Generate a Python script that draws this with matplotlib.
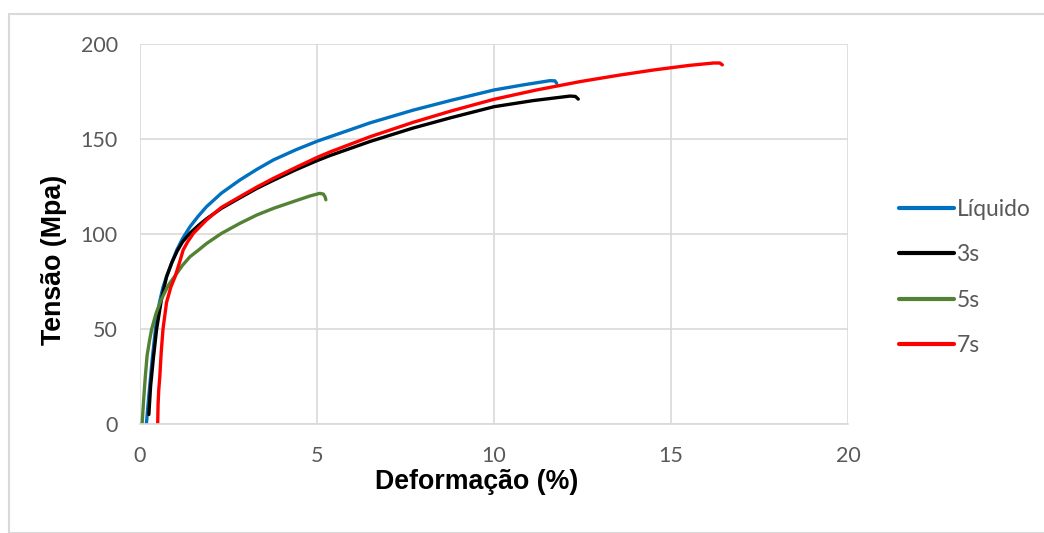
import matplotlib
matplotlib.use("Agg")
import matplotlib.pyplot as plt
from matplotlib.patches import Rectangle

liq_x = [0.18, 0.25, 0.35, 0.45, 0.55, 0.65, 0.75, 0.9, 1.04, 1.2, 1.41, 1.65, 1.88, 2.3, 2.82, 3.3, 3.77, 4.4, 5.0, 5.37, 5.65, 6.5, 7.72, 8.8, 10.0, 10.8, 11.58, 11.72, 11.77]
liq_y = [0, 15, 35, 52, 64, 72, 77.5, 85, 91.6, 97.5, 103.8, 109.5, 114.4, 121.5, 128.4, 134, 139, 144.3, 148.8, 151.2, 153.0, 158.5, 165.2, 170.4, 175.8, 178.4, 180.7, 180.6, 179.3]

s3_x = [0.25, 0.3, 0.38, 0.47, 0.6, 0.75, 0.9, 1.05, 1.2, 1.41, 1.65, 1.88, 2.3, 2.82, 3.3, 3.77, 4.4, 5.0, 5.37, 6.5, 7.72, 8.8, 10.0, 11.1, 12.15, 12.3, 12.38]
s3_y = [5, 20, 35, 50, 65, 77.5, 85, 91, 95.8, 100.4, 104.5, 108, 113.5, 119, 124, 128.3, 133.8, 138.6, 141.3, 148.7, 155.8, 161.3, 167, 170.2, 172.6, 172.4, 171]

s5_x = [0.06, 0.1, 0.15, 0.2, 0.27, 0.33, 0.45, 0.6, 0.8, 1.04, 1.2, 1.41, 1.65, 1.88, 2.3, 2.82, 3.3, 3.77, 4.4, 4.8, 5.08, 5.18, 5.23, 5.25]
s5_y = [0, 12, 25, 36, 44, 50, 58, 65.5, 73, 79.3, 83.5, 88, 91.5, 95, 100.3, 105.6, 110, 113.5, 117.5, 120, 121.4, 121, 119.5, 118]

s7_x = [0.5, 0.51, 0.53, 0.56, 0.6, 0.65, 0.75, 0.87, 0.99, 1.1, 1.22, 1.35, 1.51, 1.7, 1.88, 2.3, 2.82, 3.3, 3.77, 4.4, 5.0, 5.37, 6.5, 7.72, 8.8, 10.0, 11.2, 12.43, 13.5, 14.5, 15.5, 16.2, 16.38, 16.45]
s7_y = [0, 10, 18, 25, 38, 50, 64, 72, 77.5, 84, 91.6, 96, 100.4, 104, 107.4, 114, 119.6, 124.7, 129.3, 135, 140.3, 143.2, 151.2, 158.8, 164.8, 170.9, 175.8, 180.2, 183.5, 186.3, 188.7, 190, 190, 189]

labels = ["Líquido", "3s", "5s", "7s"]
colors = ["#0070C0", "#000000", "#548235", "#FF0000"]

fig = plt.figure(figsize=(10.44, 5.33), dpi=100)
fig.patches.append(Rectangle((9/1044, 0), 1.0, 1 - 14/533, transform=fig.transFigure,
                             fill=False, edgecolor="#d9d9d9", linewidth=1.5))
ax = fig.add_axes([140/1044, 109/533, 708/1044, 380/533])

series = [(liq_x, liq_y), (s3_x, s3_y), (s5_x, s5_y), (s7_x, s7_y)]
for (x, y), lab, c in zip(series, labels, colors):
    ax.plot(x, y, color=c, lw=2.4, label=lab, solid_capstyle="round", solid_joinstyle="round")

ax.set_xlim(0, 20)
ax.set_ylim(0, 200)
ax.set_xticks([0, 5, 10, 15, 20])
ax.set_yticks([0, 50, 100, 150, 200])
ax.grid(True, color="#d9d9d9", lw=1.2)
ax.set_axisbelow(True)
for s in ax.spines.values():
    s.set_visible(False)
ax.spines["bottom"].set_visible(True)
ax.spines["bottom"].set_color("#d9d9d9")
ax.spines["bottom"].set_linewidth(1.2)
ax.tick_params(length=0, labelsize=15.5, labelcolor="#595959")
ax.tick_params(axis="x", pad=16)
ax.tick_params(axis="y", pad=16)
for t in ax.get_xticklabels() + ax.get_yticklabels():
    t.set_fontfamily("Lato")

ax.set_xlabel("Deformação (%)", fontsize=19.3, fontweight="bold", family="Liberation Sans", labelpad=2)
ax.set_ylabel("Tensão (Mpa)", fontsize=19.3, fontweight="bold", family="Liberation Sans", labelpad=10)
ax.xaxis.label.set_x(0.4753)
ax.yaxis.label.set_y(0.4316)

leg = ax.legend(loc="center left", bbox_to_anchor=(1.0435, 0.3855), frameon=False,
                prop={"family": "Lato", "size": 16.4}, handlelength=2.4, labelspacing=1.08,
                handletextpad=0.14)
for t in leg.get_texts():
    t.set_color("#595959")
for h in leg.get_lines():
    h.set_linewidth(3)

fig.savefig("out.png", dpi=100)
